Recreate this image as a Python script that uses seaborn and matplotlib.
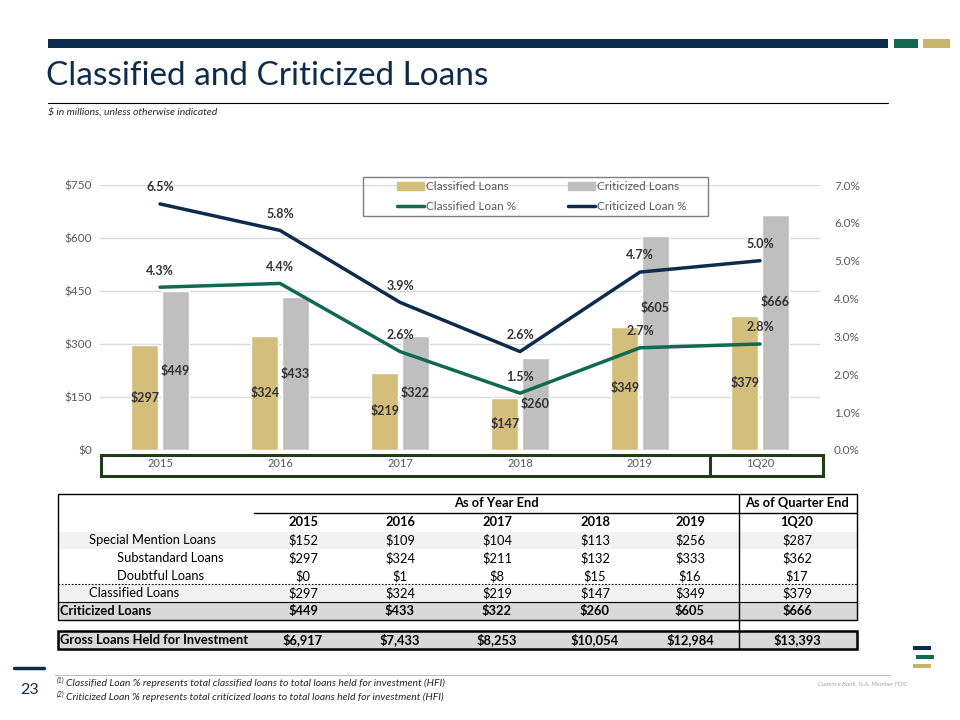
import matplotlib
matplotlib.use("Agg")
import matplotlib.pyplot as plt
from matplotlib.patches import Rectangle, Patch
from matplotlib.lines import Line2D
import pandas as pd
import seaborn as sns

# chart data ($ in millions / percent of HFI loans)
periods = ["2015", "2016", "2017", "2018", "2019", "1Q20"]
classified_loans = [297, 324, 219, 147, 349, 379]
criticized_loans = [449, 433, 322, 260, 605, 666]
classified_pct = [4.3, 4.4, 2.6, 1.5, 2.7, 2.8]
criticized_pct = [6.5, 5.8, 3.9, 2.6, 4.7, 5.0]

# table data
special_mention = [152, 109, 104, 113, 256, 287]
substandard = [297, 324, 211, 132, 333, 362]
doubtful = [0, 1, 8, 15, 16, 17]
gross_loans_hfi = [6917, 7433, 8253, 10054, 12984, 13393]

left_ticks = [0, 150, 300, 450, 600, 750]
right_ticks = [0, 1, 2, 3, 4, 5, 6, 7]

NAVY = "#0D2C4B"
GREEN = "#11694F"
GOLD = "#D4BE7C"
GOLD_DARK = "#C9B46B"
GRAY_BAR = "#BFBFBF"
TXT = "#333333"
AXTXT = "#595959"

sns.set_theme(style="white")
plt.rcParams["font.family"] = ["Lato", "DejaVu Sans"]

W, H = 960, 720


def fx(x):
    return x / W


def fy(y):
    return 1 - y / H


fig = plt.figure(figsize=(9.6, 7.2), dpi=100)


def hline(x0, x1, y, **kw):
    fig.add_artist(Line2D([fx(x0), fx(x1)], [fy(y), fy(y)], transform=fig.transFigure, **kw))


def vline(x, y0, y1, **kw):
    fig.add_artist(Line2D([fx(x), fx(x)], [fy(y0), fy(y1)], transform=fig.transFigure, **kw))


def box(x0, y0, x1, y1, **kw):
    fig.add_artist(Rectangle((fx(x0), fy(y1)), (x1 - x0) / W, (y1 - y0) / H,
                             transform=fig.transFigure, **kw))


def txt(x, y, s, **kw):
    kw.setdefault("va", "center")
    fig.text(fx(x), fy(y), s, **kw)


# header band
box(48, 39, 888, 48, color=NAVY, lw=0)
box(894, 39, 918, 48, color=GREEN, lw=0)
box(923, 39, 950, 48, color=GOLD_DARK, lw=0)
txt(46, 76, "Classified and Criticized Loans", fontsize=24, color=NAVY)
hline(48, 888, 103, color="black", lw=0.8)
txt(48, 112, "\\$ in millions, unless otherwise indicated", fontsize=7.5, style="italic", color="#262626")

# ---- chart ----
ax = fig.add_axes([fx(100), fy(450), 720 / W, 265 / H])
bars_df = pd.DataFrame({
    "period": periods * 2,
    "loans": classified_loans + criticized_loans,
    "series": ["Classified Loans"] * len(periods) + ["Criticized Loans"] * len(periods),
})
sns.barplot(data=bars_df, x="period", y="loans", hue="series", palette=[GOLD, GRAY_BAR],
            width=0.51, gap=0.12, saturation=1, legend=False, ax=ax, zorder=2)
ax.set_ylim(0, 750)
ax.set_yticks(left_ticks)
ax.set_yticklabels([f"\\${v}" for v in left_ticks], fontsize=8.5, color=AXTXT)
ax.tick_params(axis="x", length=0, pad=6, labelsize=8, labelcolor=AXTXT)
ax.tick_params(axis="y", length=0, pad=6)
ax.grid(axis="y", color="#D9D9D9", lw=1)
ax.set_axisbelow(True)
ax.set_xlabel("")
ax.set_ylabel("")
for s in ax.spines.values():
    s.set_visible(False)

for cont, vals in zip(ax.containers, [classified_loans, criticized_loans]):
    anns = ax.bar_label(cont, labels=[f"\\${v}" for v in vals], label_type="center",
                        fontsize=9, fontweight="bold", color=TXT)
    if vals is criticized_loans:
        # the two tallest labels sit higher to clear the lines
        anns[4].xyann = (0, 25)
        anns[5].xyann = (0, 22)

ax2 = ax.twinx()
pct_df = pd.DataFrame({"period": periods, "classified": classified_pct, "criticized": criticized_pct})
sns.pointplot(data=pct_df, x="period", y="classified", color=GREEN, markers="",
              linewidth=2.5, errorbar=None, ax=ax2)
sns.pointplot(data=pct_df, x="period", y="criticized", color=NAVY, markers="",
              linewidth=2.5, errorbar=None, ax=ax2)
ax2.set_ylim(0, 7)
ax2.set_yticks(right_ticks)
ax2.set_yticklabels([f"{v:.1f}%" for v in right_ticks], fontsize=8.5, color=AXTXT)
ax2.tick_params(axis="y", length=0, pad=10)
ax2.set_ylabel("")
ax2.grid(False)
for s in ax2.spines.values():
    s.set_visible(False)

for series in [classified_pct, criticized_pct]:
    for i, v in enumerate(series):
        ax2.annotate(f"{v:.1f}%", (i, v), xytext=(0, 12), textcoords="offset points",
                     ha="center", va="center", fontsize=9, fontweight="bold", color=TXT)

# legend with a separately drawn frame
handles = [Patch(color=GOLD), Line2D([], [], color=GREEN, lw=2.5),
           Patch(color=GRAY_BAR), Line2D([], [], color=NAVY, lw=2.5)]
labels = ["Classified Loans", "Classified Loan %", "Criticized Loans", "Criticized Loan %"]
fig.legend(handles, labels, ncol=2, loc="upper left",
           bbox_to_anchor=(fx(397), fy(181)), frameon=False, fontsize=8.5,
           handlelength=2.3, handleheight=0.6, handletextpad=0.15,
           columnspacing=4.4, labelspacing=0.75, borderaxespad=0, borderpad=0,
           labelcolor=AXTXT)
box(363, 177, 708, 216, fill=False, edgecolor="#7F7F7F", lw=1)

# boxed category strip
box(101, 455, 823, 476, fill=False, edgecolor="#1F3D16", lw=2.2)
vline(710, 455, 476, color="#1F3D16", lw=2.2)

# ---- table ----
col_x = [303, 400, 497, 595, 690, 797]
box(58, 532, 857, 549, color="#F2F2F2", lw=0)
box(58, 584, 857, 602, color="#F2F2F2", lw=0)
box(58, 602, 857, 620, color="#D9D9D9", lw=0)
box(58, 631, 857, 649, color="#D9D9D9", lw=0)
box(58, 494, 857, 620, fill=False, edgecolor="black", lw=1)
hline(254, 857, 513, color="black", lw=1)
hline(58, 857, 602, color="black", lw=0.8)
hline(58, 857, 584, color="black", lw=0.8, ls=(0, (1.5, 1.5)))
vline(739, 494, 649, color="black", lw=1)
box(58, 631, 857, 649, fill=False, edgecolor="black", lw=1.8)

tfont = dict(fontsize=9.3, color="black")
txt(496, 503, "As of Year End", ha="center", fontweight="bold", **tfont)
txt(797, 503, "As of Quarter End", ha="center", fontweight="bold", **tfont)
for x, p in zip(col_x, periods):
    txt(x, 522, p, ha="center", fontweight="bold", **tfont)

rows = [
    ("Special Mention Loans", 89, 540.5, special_mention, "normal"),
    ("Substandard Loans", 117, 558, substandard, "normal"),
    ("Doubtful Loans", 117, 576, doubtful, "normal"),
    ("Classified Loans", 89, 593, classified_loans, "normal"),
    ("Criticized Loans", 60, 611, criticized_loans, "bold"),
    ("Gross Loans Held for Investment", 60, 640, gross_loans_hfi, "bold"),
]
for label, lx, y, vals, wt in rows:
    txt(lx, y, label, ha="left", fontweight=wt, **tfont)
    for x, v in zip(col_x, vals):
        txt(x, y, f"\\${v:,}", ha="center", fontweight=wt, **tfont)

# ---- footer ----
hline(14, 44, 668, color=NAVY, lw=2.5)
txt(30, 690, "23", ha="center", fontsize=11.5, color=NAVY)
hline(55, 890, 675, color="#BFBFBF", lw=0.8)
notes = ["Classified Loan % represents total classified loans to total loans held for investment (HFI)",
         "Criticized Loan % represents total criticized loans to total loans held for investment (HFI)"]
for k, (y, note) in enumerate(zip([683, 697], notes)):
    txt(57, y - 3, f"({k + 1})", fontsize=5, style="italic", color="#262626")
    txt(66, y, note, fontsize=7.5, style="italic", color="#262626")
txt(818, 684, "Cadence Bank, N.A. Member FDIC", fontsize=4.5, style="italic", color="#A6A6A6")
box(913, 646, 931, 650, color=NAVY, lw=0)
box(916, 655, 934, 659, color=GREEN, lw=0)
box(913, 664, 931, 668, color=GOLD_DARK, lw=0)

fig.savefig("out.png", dpi=100)
